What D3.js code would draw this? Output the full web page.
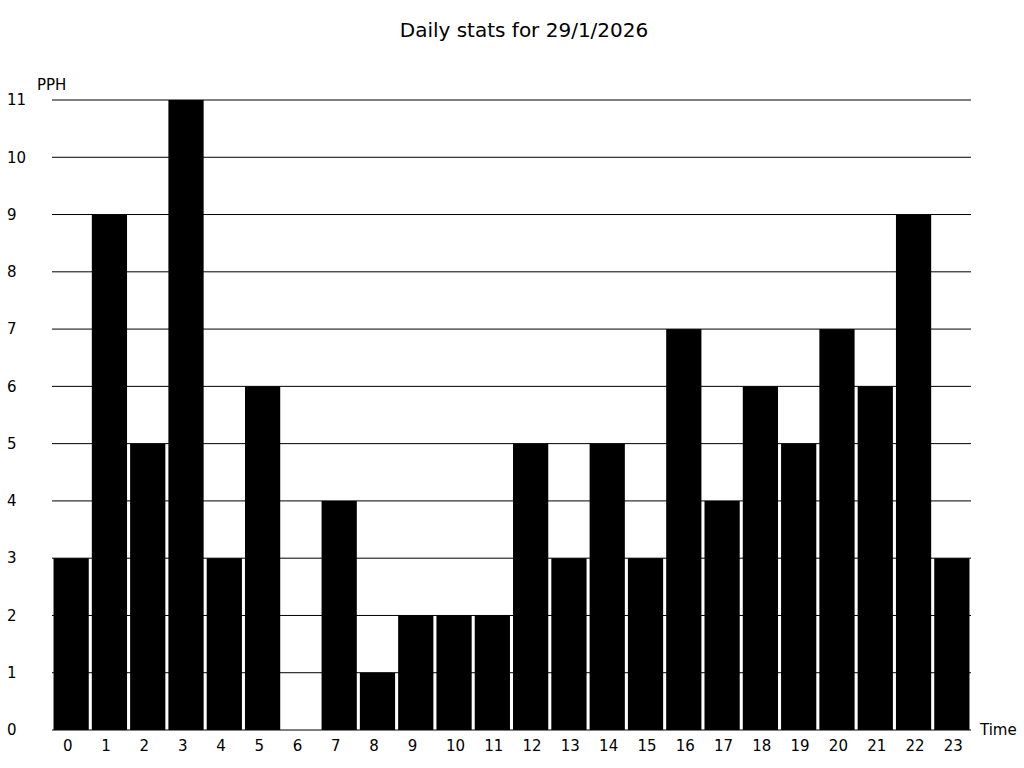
<!DOCTYPE html>
<html>
<head>
<meta charset="utf-8">
<script src="https://cdn.jsdelivr.net/npm/d3@7/dist/d3.min.js"></script>
<style>
  body { margin: 0; background: #fff; }
  text { font-family: "DejaVu Sans", sans-serif; fill: #000; }
</style>
</head>
<body>
<div id="chart"></div>
<script>
var title = "Daily stats for 29/1/2026";
var hours = ["0","1","2","3","4","5","6","7","8","9","10","11","12","13","14","15","16","17","18","19","20","21","22","23"];
var pph = [3, 9, 5, 11, 3, 6, 0, 4, 1, 2, 2, 2, 5, 3, 5, 3, 7, 4, 6, 5, 7, 6, 9, 3];
var yTicks = [0, 1, 2, 3, 4, 5, 6, 7, 8, 9, 10, 11];

var width = 1024,
    height = 768;
var plotLeft = 52, plotRight = 971, plotTop = 100, plotBottom = 730;

var svg = d3.select("#chart").append("svg")
  .attr("width", width)
  .attr("height", height);

var xScale = d3.scaleBand()
  .domain(hours)
  .range([plotLeft, plotRight])
  .paddingInner(0.08)
  .paddingOuter(0.04);

var yScale = d3.scaleLinear()
  .domain([0, 11])
  .range([plotBottom, plotTop]);

// title
svg.append("text")
  .attr("x", 524)
  .attr("y", 37)
  .attr("text-anchor", "middle")
  .style("font-size", "20px")
  .text(title);

// gridlines
svg.append("g").attr("class", "grid")
  .selectAll("line")
  .data(yTicks)
  .enter().append("line")
  .attr("x1", plotLeft)
  .attr("x2", plotRight)
  .attr("y1", d => yScale(d))
  .attr("y2", d => yScale(d))
  .attr("stroke", "#000")
  .attr("stroke-width", 1);

// y labels (left aligned)
svg.append("g")
  .selectAll("text")
  .data(yTicks)
  .enter().append("text")
  .attr("x", 7)
  .attr("y", d => yScale(d))
  .attr("dy", "0.35em")
  .style("font-size", "15px")
  .text(d => d);

// bars
svg.append("g")
  .selectAll("rect")
  .data(pph)
  .enter().append("rect")
  .attr("x", (d, i) => xScale(hours[i]))
  .attr("width", xScale.bandwidth())
  .attr("y", d => yScale(d))
  .attr("height", d => yScale(0) - yScale(d))
  .attr("fill", "#000");

// x labels, start-aligned a bit inside each band
svg.append("g")
  .selectAll("text")
  .data(hours)
  .enter().append("text")
  .attr("x", d => xScale(d) + 9.5)
  .attr("y", 751)
  .style("font-size", "15px")
  .text(d => d);

// axis titles
svg.append("text")
  .attr("x", 980)
  .attr("y", plotBottom + 5)
  .style("font-size", "15px")
  .text("Time");
svg.append("text")
  .attr("x", 37)
  .attr("y", 90)
  .style("font-size", "15px")
  .text("PPH");
</script>
</body>
</html>
